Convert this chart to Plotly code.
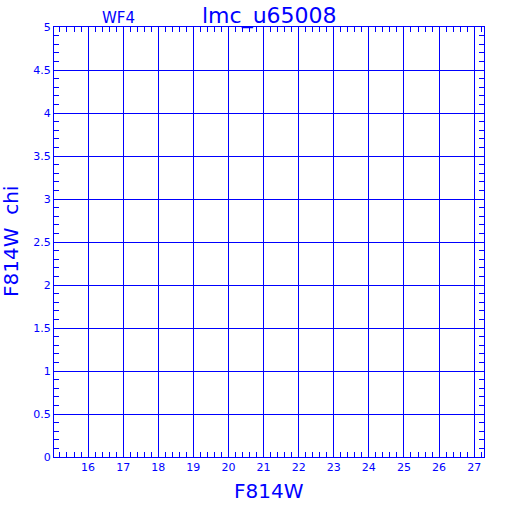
import plotly.graph_objects as go

# Data (chart has no plotted points; only axes frame)
x_values = []
y_values = []
x_tickvals = [16, 17, 18, 19, 20, 21, 22, 23, 24, 25, 26, 27]
y_tickvals = [0, 0.5, 1, 1.5, 2, 2.5, 3, 3.5, 4, 4.5, 5]
y_ticktext = ["0", "0.5", "1", "1.5", "2", "2.5", "3", "3.5", "4", "4.5", "5"]
x_range = [15.03, 27.28]
y_range = [0, 5]

BLUE = "#0000ff"
FONT = "DejaVu Sans"

fig = go.Figure()
fig.add_trace(go.Scatter(x=x_values, y=y_values, mode="markers",
                         marker=dict(color=BLUE, size=3), showlegend=False))

axis_common = dict(
    showline=True, linecolor=BLUE, linewidth=1, mirror="allticks",
    showgrid=True, gridcolor=BLUE, gridwidth=1,
    ticks="inside", ticklen=5, tickcolor=BLUE, tickwidth=1,
    tickfont=dict(family=FONT, size=11, color=BLUE),
    zeroline=False, automargin=False,
)

fig.update_xaxes(
    range=x_range, tickvals=x_tickvals,
    minor=dict(ticks="inside", ticklen=5, dtick=0.2, tick0=15, tickcolor=BLUE, showgrid=False),
    **axis_common,
)
fig.update_yaxes(
    range=y_range, tickvals=y_tickvals, ticktext=y_ticktext,
    minor=dict(ticks="inside", ticklen=5, dtick=0.1, tick0=0, tickcolor=BLUE, showgrid=False),
    **axis_common,
)

fig.add_annotation(text="lmc_u65008", xref="paper", yref="paper", x=0.5, y=1.0,
                   yanchor="middle", yshift=11, showarrow=False,
                   font=dict(family=FONT, size=22, color=BLUE))
fig.add_annotation(text="WF4", xref="paper", yref="paper", x=0.108, y=1.0,
                   yanchor="middle", yshift=9, showarrow=False,
                   font=dict(family=FONT, size=15, color=BLUE))
fig.add_annotation(text="F814W", xref="paper", yref="paper", x=0.5, y=0.0,
                   yanchor="middle", yshift=-34, showarrow=False,
                   font=dict(family=FONT, size=20, color=BLUE))
fig.add_annotation(text="F814W  chi", xref="paper", yref="paper", x=0.0, y=0.5,
                   xanchor="center", xshift=-43, textangle=-90, showarrow=False,
                   font=dict(family=FONT, size=20, color=BLUE))

fig.update_layout(
    width=512, height=512,
    margin=dict(l=54, r=28, t=27, b=55),
    paper_bgcolor="white", plot_bgcolor="white",
    showlegend=False,
)

fig.write_html("out.html", config={"displayModeBar": False},
               post_script="document.body.style.margin='0px';document.body.style.padding='0px';")
